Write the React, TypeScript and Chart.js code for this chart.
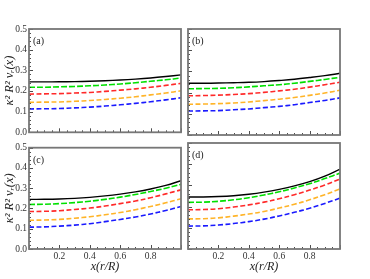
import React, { useEffect, useRef } from "react";
import { Chart, registerables } from "chart.js";

Chart.register(...registerables);

const xValues = [0, 0.1, 0.2, 0.3, 0.4, 0.5, 0.6, 0.7, 0.8, 0.9, 1.0];
const yTickLabels = ["0.0", "0.1", "0.2", "0.3", "0.4", "0.5"];
const xTickLabels = ["0.2", "0.4", "0.6", "0.8"];
const panelLabels = ["(a)", "(b)", "(c)", "(d)"];
const seriesColors = ["#000000", "#00e000", "#ff2a2a", "#ffb428", "#1a1aff"];

const blackA = [0.244, 0.244, 0.2445, 0.2455, 0.247, 0.2495, 0.253, 0.2575, 0.263, 0.27, 0.278];
const greenA = [0.218, 0.218, 0.22, 0.222, 0.225, 0.229, 0.234, 0.24, 0.247, 0.254, 0.263];
const redA = [0.185, 0.186, 0.187, 0.19, 0.193, 0.198, 0.204, 0.21, 0.218, 0.227, 0.237];
const orangeA = [0.145, 0.146, 0.147, 0.15, 0.154, 0.159, 0.165, 0.172, 0.181, 0.19, 0.201];
const blueA = [0.113, 0.114, 0.115, 0.118, 0.122, 0.127, 0.133, 0.14, 0.148, 0.157, 0.167];

const blackB = [0.244, 0.244, 0.245, 0.2465, 0.2485, 0.252, 0.257, 0.263, 0.271, 0.28, 0.291];
const greenB = [0.218, 0.219, 0.22, 0.223, 0.227, 0.232, 0.237, 0.244, 0.253, 0.262, 0.272];
const redB = [0.185, 0.186, 0.188, 0.191, 0.195, 0.201, 0.208, 0.216, 0.226, 0.237, 0.249];
const orangeB = [0.145, 0.146, 0.148, 0.151, 0.156, 0.162, 0.169, 0.177, 0.187, 0.198, 0.211];
const blueB = [0.113, 0.114, 0.115, 0.119, 0.123, 0.129, 0.135, 0.143, 0.153, 0.163, 0.175];

const blackC = [0.245, 0.2455, 0.247, 0.25, 0.255, 0.262, 0.271, 0.282, 0.296, 0.314, 0.337];
const greenC = [0.22, 0.221, 0.224, 0.229, 0.236, 0.245, 0.256, 0.269, 0.284, 0.3, 0.319];
const redC = [0.185, 0.186, 0.189, 0.195, 0.202, 0.212, 0.224, 0.237, 0.253, 0.272, 0.292];
const orangeC = [0.142, 0.143, 0.146, 0.152, 0.159, 0.169, 0.18, 0.194, 0.21, 0.228, 0.248];
const blueC = [0.108, 0.109, 0.113, 0.118, 0.125, 0.135, 0.146, 0.158, 0.173, 0.19, 0.21];

const blackD = [0.245, 0.2455, 0.2475, 0.2515, 0.2585, 0.2685, 0.2815, 0.2975, 0.3175, 0.3435, 0.3765];
const greenD = [0.22, 0.221, 0.225, 0.232, 0.242, 0.255, 0.27, 0.288, 0.308, 0.332, 0.358];
const redD = [0.185, 0.186, 0.19, 0.198, 0.208, 0.221, 0.237, 0.256, 0.278, 0.302, 0.33];
const orangeD = [0.142, 0.143, 0.147, 0.155, 0.165, 0.177, 0.193, 0.211, 0.232, 0.256, 0.283];
const blueD = [0.108, 0.109, 0.113, 0.12, 0.129, 0.141, 0.156, 0.173, 0.192, 0.215, 0.24];

const panelSeries = [
  [blackA, greenA, redA, orangeA, blueA],
  [blackB, greenB, redB, orangeB, blueB],
  [blackC, greenC, redC, orangeC, blueC],
  [blackD, greenD, redD, orangeD, blueD],
];

const FONT = "'Liberation Serif', 'Times New Roman', serif";

type Geo = { left: number; top: number; w: number; h: number; pad: any; yW: number; xH: number; showY: boolean; showX: boolean };

const geos: Geo[] = [
  { left: 0, top: 0, w: 185, h: 140, pad: { left: 0, right: 4, top: 29, bottom: 0 }, yW: 29, xH: 5, showY: true, showX: false },
  { left: 185, top: 0, w: 185, h: 140, pad: { left: 3, right: 30, top: 29, bottom: 0 }, yW: 0, xH: 5, showY: false, showX: false },
  { left: 0, top: 140, w: 185, h: 139, pad: { left: 0, right: 4, top: 3, bottom: 0 }, yW: 29, xH: 30, showY: true, showX: true },
  { left: 185, top: 140, w: 185, h: 139, pad: { left: 3, right: 30, top: 3, bottom: 0 }, yW: 0, xH: 30, showY: false, showX: true },
];

const framePlugin = (label: string) => ({
  id: "frame" + label,
  afterDraw(chart: any) {
    const { ctx, chartArea } = chart;
    const xs = chart.scales.x;
    const ys = chart.scales.y;
    ctx.save();
    ctx.strokeStyle = "#222";
    ctx.lineWidth = 0.8;
    ctx.beginPath();
    for (let i = 0; i <= 20; i++) {
      const v = i * 0.05;
      const px = Math.round(xs.getPixelForValue(v)) + 0.5;
      const len = i % 4 === 0 ? 4 : 2;
      ctx.moveTo(px, chartArea.bottom);
      ctx.lineTo(px, chartArea.bottom - len);
    }
    for (let i = 0; i <= 25; i++) {
      const v = i * 0.02;
      const py = Math.round(ys.getPixelForValue(v)) + 0.5;
      const len = i % 5 === 0 ? 4 : 2;
      ctx.moveTo(chartArea.left, py);
      ctx.lineTo(chartArea.left + len, py);
    }
    ctx.stroke();
    ctx.strokeStyle = "#777777";
    ctx.lineWidth = 1.8;
    ctx.strokeRect(chartArea.left, chartArea.top, chartArea.right - chartArea.left, chartArea.bottom - chartArea.top);
    ctx.fillStyle = "#222";
    ctx.font = "10px " + FONT;
    ctx.textBaseline = "alphabetic";
    ctx.fillText(label, chartArea.left + 4, chartArea.top + 15);
    ctx.restore();
  },
});

function Panel({ idx }: { idx: number }) {
  const ref = useRef<HTMLCanvasElement>(null);
  const g = geos[idx];
  useEffect(() => {
    const series = panelSeries[idx];
    const datasets = series.map((vals, si) => ({
      data: vals.map((y, i) => ({ x: xValues[i], y })),
      borderColor: seriesColors[si],
      borderWidth: si === 0 ? 1.4 : 1.6,
      borderDash: si === 0 ? [] : si === 1 ? [6, 2] : [5, 2.5],
      pointRadius: 0,
      fill: false,
      tension: 0.4,
    }));
    const chart = new Chart(ref.current!, {
      type: "line",
      data: { datasets },
      options: {
        animation: false,
        responsive: false,
        layout: { padding: g.pad },
        plugins: { legend: { display: false }, tooltip: { enabled: false } },
        scales: {
          x: {
            type: "linear",
            min: 0,
            max: 1,
            grid: { display: false, drawTicks: false },
            border: { display: false },
            ticks: {
              display: g.showX,
              stepSize: 0.2,
              padding: 2,
              color: "#333",
              font: { family: FONT, size: 9.5 },
              maxRotation: 0,
              callback: (v: any) => {
                const s = Number(v).toFixed(1);
                return xTickLabels.includes(s) ? s : "";
              },
            },
            title: {
              display: g.showX,
              text: "x(r/R)",
              color: "#222",
              font: { family: FONT, size: 12, style: "italic" },
              padding: { top: 0, bottom: 5 },
            },
            afterFit: (s: any) => {
              s.height = g.xH;
            },
          },
          y: {
            min: 0,
            max: 0.5,
            grid: { display: false, drawTicks: false },
            border: { display: false },
            ticks: {
              display: g.showY,
              stepSize: 0.1,
              padding: 2,
              color: "#333",
              font: { family: FONT, size: 9.5 },
              callback: (v: any) => {
                const s = Number(v).toFixed(1);
                return yTickLabels.includes(s) ? s : "";
              },
            },
            title: {
              display: g.showY,
              text: "κ² R² νᵣ(x)",
              color: "#222",
              font: { family: FONT, size: 12.5, style: "italic" },
              padding: { top: 2, bottom: 0 },
            },
            afterFit: (s: any) => {
              s.width = g.yW;
            },
          },
        },
      },
      plugins: [framePlugin(panelLabels[idx])],
    });
    return () => chart.destroy();
  }, [idx]);
  return (
    <canvas
      ref={ref}
      width={g.w}
      height={g.h}
      style={{ position: "absolute", left: g.left, top: g.top, width: g.w, height: g.h }}
    />
  );
}

export default function App() {
  return (
    <div style={{ position: "absolute", left: 0, top: 0, width: 370, height: 279, background: "#fff" }}>
      {[0, 1, 2, 3].map((i) => (
        <Panel key={i} idx={i} />
      ))}
    </div>
  );
}
